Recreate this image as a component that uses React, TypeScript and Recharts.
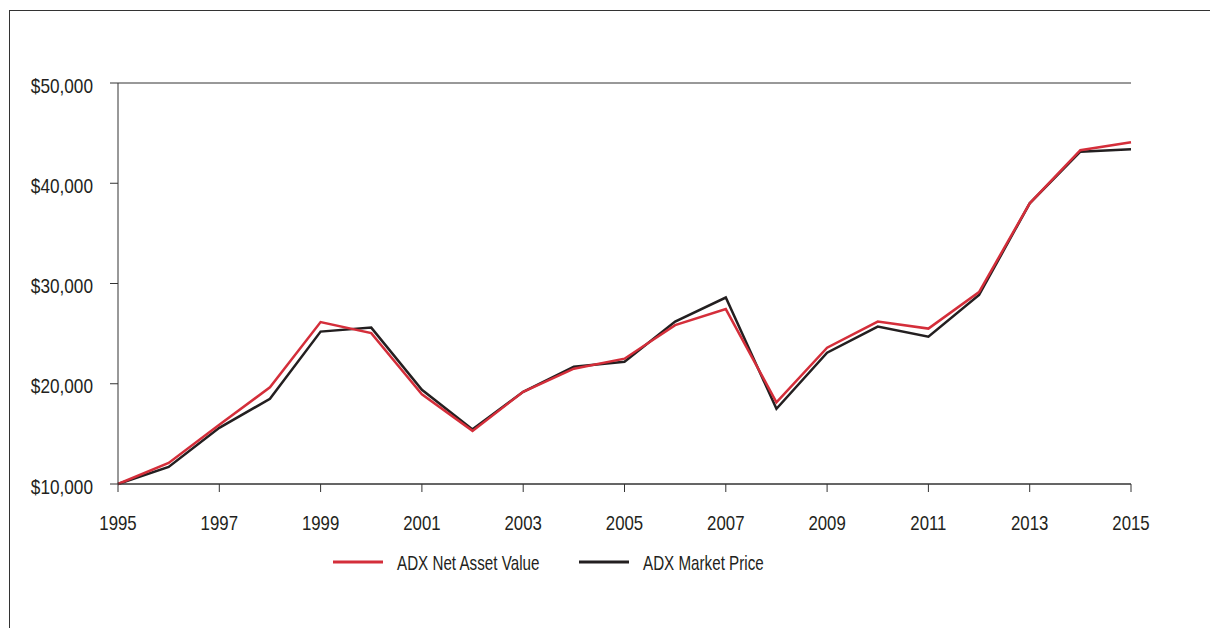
import { LineChart, Line, XAxis, YAxis, CartesianGrid, Legend } from "recharts";

const years = [
  1995, 1996, 1997, 1998, 1999, 2000, 2001, 2002, 2003, 2004, 2005, 2006, 2007,
  2008, 2009, 2010, 2011, 2012, 2013, 2014, 2015,
];
const navValues = [
  10000, 12100, 15900, 19650, 26150, 25050, 18950, 15300, 19200, 21500, 22500,
  25850, 27450, 18150, 23600, 26200, 25500, 29150, 38000, 43300, 44100,
];
const marketValues = [
  10000, 11700, 15600, 18500, 25200, 25600, 19400, 15450, 19200, 21700, 22200,
  26200, 28600, 17500, 23100, 25700, 24700, 28850, 38000, 43150, 43400,
];
const yTicks = [10000, 20000, 30000, 40000, 50000];
const xTicks = [1995, 1997, 1999, 2001, 2003, 2005, 2007, 2009, 2011, 2013, 2015];

const rows = years.map((year, i) => ({
  year,
  nav: navValues[i],
  market: marketValues[i],
}));

const FONT = '"Liberation Sans", Arial, sans-serif';
const INK = "#231f20";
const RED = "#d42e3a";

// the reference uses a condensed face, so squeeze regular text sideways
function XTick({ x, y, payload }: any) {
  return (
    <text
      transform={`translate(${x},${y}) scale(0.84,1)`}
      textAnchor="middle"
      dy="0.71em"
      fontSize={20}
      fontFamily={FONT}
      fill={INK}
    >
      {payload.value}
    </text>
  );
}

function YTick({ x, y, payload }: any) {
  return (
    <text
      transform={`translate(${x},${y}) scale(0.86,1)`}
      textAnchor="end"
      dy={9.5}
      fontSize={20}
      fontFamily={FONT}
      fill={INK}
    >
      {"$" + payload.value.toLocaleString("en-US")}
    </text>
  );
}

function LegendRow({ payload }: any) {
  const items = [...(payload ?? [])].reverse();
  return (
    <svg width={600} height={30}>
      {items.map((item: any, i: number) => (
        <g key={item.value} transform={`translate(${i * 246},0)`}>
          <line x1={0} y1={12} x2={50} y2={12} stroke={item.color} strokeWidth={3} />
          <text
            transform="translate(64,20) scale(0.76,1)"
            fontSize={20}
            fontFamily={FONT}
            fill={INK}
          >
            {item.value}
          </text>
        </g>
      ))}
    </svg>
  );
}

export default function App() {
  return (
    <div style={{ position: "absolute", left: 0, top: 0, width: 1210, height: 628, overflow: "hidden", background: "#fff" }}>
      <div style={{ position: "absolute", left: 9, top: 10, width: 1201, height: 1, background: "#333" }} />
      <div style={{ position: "absolute", left: 9, top: 10, width: 1, height: 618, background: "#333" }} />
      <LineChart
        width={1210}
        height={628}
        data={rows}
        margin={{ top: 83, right: 79, bottom: 0, left: 0 }}
      >
        <CartesianGrid vertical={false} stroke="#333" strokeWidth={1} />
        <XAxis
          dataKey="year"
          type="number"
          domain={[1995, 2015]}
          ticks={xTicks}
          height={144}
          tickSize={8}
          tickMargin={24}
          stroke="#333"
          tick={<XTick />}
        />
        <YAxis
          yAxisId="left"
          domain={[10000, 50000]}
          ticks={yTicks}
          width={118}
          tickSize={8}
          tickMargin={17}
          stroke="#333"
          tick={<YTick />}
        />
        <YAxis
          yAxisId="right"
          orientation="right"
          domain={[10000, 50000]}
          width={0}
          tick={false}
          tickLine={false}
          stroke="#333"
        />
        <Line
          yAxisId="left"
          dataKey="market"
          name="ADX Market Price"
          stroke={INK}
          strokeWidth={2.5}
          dot={false}
          isAnimationActive={false}
        />
        <Line
          yAxisId="left"
          dataKey="nav"
          name="ADX Net Asset Value"
          stroke={RED}
          strokeWidth={2.5}
          dot={false}
          isAnimationActive={false}
        />
        <Legend
          layout="horizontal"
          verticalAlign="middle"
          align="center"
          content={<LegendRow />}
          wrapperStyle={{ left: 333, top: 550, width: 600, height: 30 }}
        />
      </LineChart>
    </div>
  );
}
